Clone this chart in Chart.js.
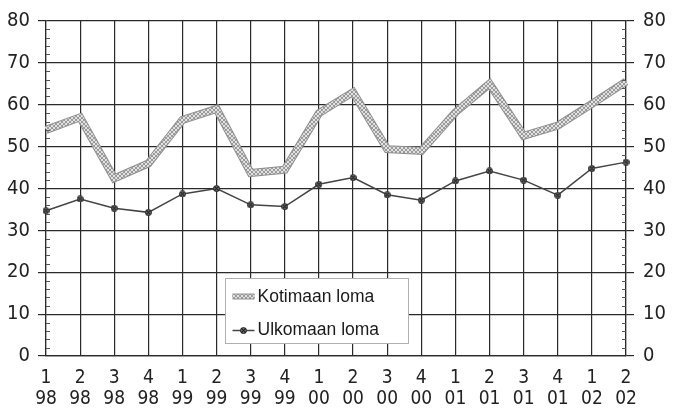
<!DOCTYPE html>
<html>
<head>
<meta charset="utf-8">
<script src="https://cdn.jsdelivr.net/npm/chart.js@4/dist/chart.umd.min.js"></script>
<style>
html,body{margin:0;padding:0;background:#fff;}
canvas{display:block;}
</style>
</head>
<body>
<canvas id="c" width="684" height="409"></canvas>
<script>
const quarters = ['1','2','3','4','1','2','3','4','1','2','3','4','1','2','3','4','1','2'];
const years = ['98','98','98','98','99','99','99','99','00','00','00','00','01','01','01','01','02','02'];
const kotimaan = [54,57,42.4,46,56.4,59,43.7,44.5,58,63,49.4,49,58.2,65,52.6,55,60.2,65.5];
const ulkomaan = [34.7,37.5,35.3,34.3,38.7,40,36.1,35.7,41,42.6,38.5,37.2,41.8,44.2,42,38.4,44.8,46.3];
const seriesNames = ['Kotimaan loma','Ulkomaan loma'];
const yTicks = [0,10,20,30,40,50,60,70,80];

const labels = quarters.map((q,i)=>[q, years[i]]);
const TICK_FONT = "'Liberation Sans Narrow','DejaVu Sans Condensed','Liberation Sans',sans-serif";
const LEG_FONT = "'Liberation Sans',Arial,sans-serif";
const GRID = '#2a2a2a';

// hatch pattern for the thick line
const pc = document.createElement('canvas'); pc.width = 4; pc.height = 4;
const px = pc.getContext('2d');
px.fillStyle = '#e2e2e2'; px.fillRect(0,0,4,4);
px.fillStyle = '#9a9a9a';
[[0,0],[1,1],[2,2],[3,3],[3,0],[2,1],[1,2],[0,3]].forEach(p=>px.fillRect(p[0],p[1],1,1));
const ctx = document.getElementById('c').getContext('2d');
const hatch = ctx.createPattern(pc,'repeat');

// marker image
const mk = document.createElement('canvas'); mk.width = 7; mk.height = 7;
const mx = mk.getContext('2d');
mx.fillStyle = '#9a9a9a'; mx.beginPath(); mx.arc(3.5,3.5,3,0,Math.PI*2); mx.fill();
mx.strokeStyle = '#222'; mx.lineWidth = 1.1;
mx.beginPath(); mx.arc(3.5,3.5,2.8,0,Math.PI*2); mx.stroke();
mx.beginPath(); mx.moveTo(1.5,1.5); mx.lineTo(5.5,5.5); mx.moveTo(5.5,1.5); mx.lineTo(1.5,5.5); mx.stroke();

const underlay = {
  id:'underlay',
  beforeDatasetDraw(chart, args){
    if(args.index !== 0) return;
    const pts = chart.getDatasetMeta(0).data;
    const c = chart.ctx;
    c.save();
    c.strokeStyle = '#8e8e8e'; c.lineWidth = 8; c.lineJoin = 'miter';
    c.beginPath();
    pts.forEach((p,i)=> i ? c.lineTo(p.x,p.y) : c.moveTo(p.x,p.y));
    c.stroke();
    c.restore();
  }
};

const minorTicks = {
  id:'minorTicks',
  afterDraw(chart){
    const y = chart.scales.y, ca = chart.chartArea, c = chart.ctx;
    c.save(); c.strokeStyle = '#555'; c.lineWidth = 1;
    for(let v=0; v<=80; v+=2){
      if(v%10===0) continue;
      const py = Math.round(y.getPixelForValue(v))+0.5;
      c.beginPath(); c.moveTo(ca.left, py); c.lineTo(ca.left+4, py); c.stroke();
      c.beginPath(); c.moveTo(ca.right-4, py); c.lineTo(ca.right, py); c.stroke();
    }
    c.restore();
  }
};

const boxLegend = {
  id:'boxLegend',
  afterDraw(chart){
    const ca = chart.chartArea, c = chart.ctx;
    const w = ca.right-ca.left, h = ca.bottom-ca.top;
    const x0 = Math.round(ca.left + w*0.3086)+0.5, y0 = Math.round(ca.top + h*0.768)+0.5;
    const bw = 183, bh = 65;
    c.save();
    c.fillStyle = '#fff'; c.fillRect(x0,y0,bw,bh);
    c.strokeStyle = '#b0b0b0'; c.lineWidth = 1; c.strokeRect(x0,y0,bw,bh);
    const r1 = y0+18, r2 = y0+52;
    c.strokeStyle = '#8e8e8e'; c.lineWidth = 6;
    c.beginPath(); c.moveTo(x0+7,r1); c.lineTo(x0+29,r1); c.stroke();
    c.strokeStyle = hatch; c.lineWidth = 4;
    c.beginPath(); c.moveTo(x0+7,r1); c.lineTo(x0+29,r1); c.stroke();
    c.strokeStyle = '#444'; c.lineWidth = 1.5;
    c.beginPath(); c.moveTo(x0+7,r2); c.lineTo(x0+29,r2); c.stroke();
    c.drawImage(mk, x0+18-3.5, r2-3.5);
    c.fillStyle = '#1a1a1a';
    c.font = '17.5px ' + LEG_FONT;
    c.textBaseline = 'middle'; c.textAlign = 'left';
    c.fillText(chart.data.datasets[0].label, x0+32, r1+1);
    c.fillText(chart.data.datasets[1].label, x0+32, r2);
    c.restore();
  }
};

new Chart(ctx, {
  type:'line',
  data:{
    labels: labels,
    datasets:[
      {label: seriesNames[0], data: kotimaan, borderColor: hatch, borderWidth: 6, pointRadius: 0, tension: 0, fill:false, borderJoinStyle:'miter'},
      {label: seriesNames[1], data: ulkomaan, borderColor: '#444', borderWidth: 1.5, pointStyle: mk, pointRadius: 3.5, tension: 0, fill:false}
    ]
  },
  options:{
    responsive:false,
    animation:false,
    layout:{padding:{top:20,left:0,right:0,bottom:0}},
    plugins:{legend:{display:false}, tooltip:{enabled:false}},
    scales:{
      x:{
        offset:false,
        grid:{color:GRID, lineWidth:1.2, drawTicks:false},
        border:{color:GRID, width:1.2},
        ticks:{font:{family:TICK_FONT,size:19,style:'condensed',lineHeight:1.1}, color:'#222', padding:12, maxRotation:0, autoSkip:false},
        afterFit(s){ s.height = 53; }
      },
      y:{
        position:'left', min:0, max:80,
        afterBuildTicks(s){ s.ticks = yTicks.map(v=>({value:v})); },
        grid:{color:GRID, lineWidth:1.2, tickLength:8},
        border:{color:GRID, width:1.2},
        ticks:{font:{family:TICK_FONT,size:20,style:'condensed'}, color:'#222', padding:8},
        afterFit(s){ s.width = 46; }
      },
      y2:{
        position:'right', min:0, max:80,
        afterBuildTicks(s){ s.ticks = yTicks.map(v=>({value:v})); },
        grid:{drawOnChartArea:false, color:GRID, lineWidth:1.2, tickLength:8},
        border:{color:GRID, width:1.2},
        ticks:{font:{family:TICK_FONT,size:20,style:'condensed'}, color:'#222', padding:9},
        afterFit(s){ s.width = 58; }
      }
    }
  },
  plugins:[underlay, minorTicks, boxLegend]
});
</script>
</body>
</html>
